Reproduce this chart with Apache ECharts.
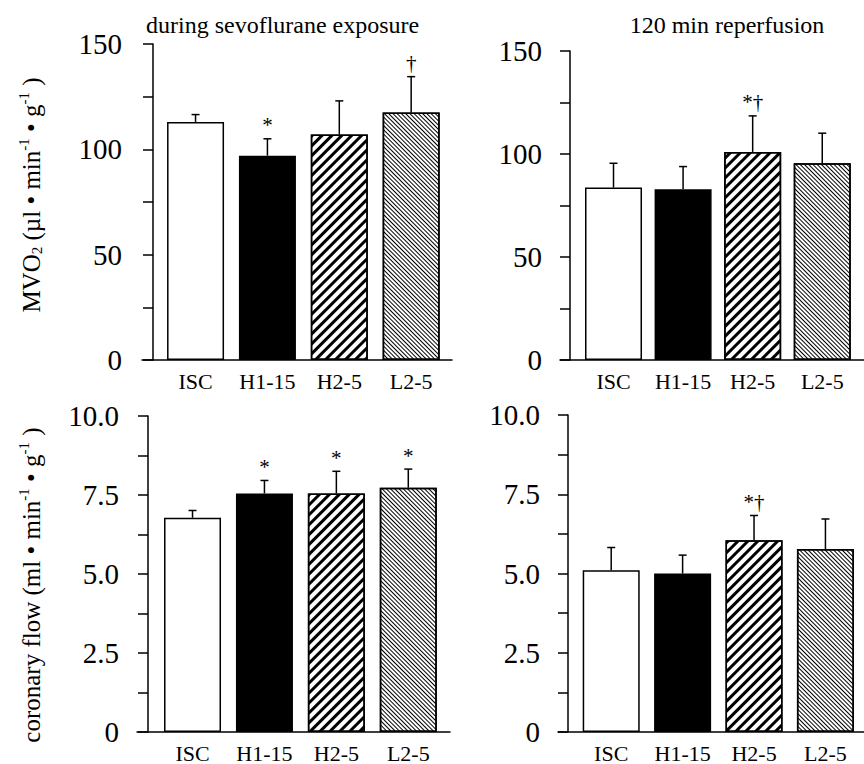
<!DOCTYPE html>
<html>
<head>
<meta charset="utf-8">
<script src="https://cdn.jsdelivr.net/npm/echarts@6/dist/echarts.min.js"></script>
<style>
html,body{margin:0;padding:0;background:#fff}
#chart{width:864px;height:764px}
</style>
</head>
<body>
<div id="chart"></div>
<script>
const categories = ['ISC', 'H1-15', 'H2-5', 'L2-5']

// MVO2, during sevoflurane exposure
const mvoExpMean = [113, 97, 107, 117.5]
const mvoExpErr = [3.5, 8, 16, 17]
const mvoExpMark = ['', '*', '', '†']
// MVO2, 120 min reperfusion
const mvoRepMean = [83.7, 82.9, 101, 95.5]
const mvoRepErr = [11.8, 11, 17.5, 14.6]
const mvoRepMark = ['', '', '*†', '']
// coronary flow, during sevoflurane exposure
const flowExpMean = [6.78, 7.55, 7.55, 7.73]
const flowExpErr = [0.23, 0.41, 0.7, 0.59]
const flowExpMark = ['', '*', '*', '*']
// coronary flow, 120 min reperfusion
const flowRepMean = [5.1, 5.0, 6.05, 5.77]
const flowRepErr = [0.72, 0.58, 0.78, 0.95]
const flowRepMark = ['', '', '*†', '']

const mvoTicks = [0, 50, 100, 150]
const flowTicks = [0, 2.5, 5, 7.5, 10]

const FONT = '"Liberation Serif", "Times New Roman", serif'

// fill of each group: open, solid, wide stripes, fine stripes
const barFills = [
    {color: '#fff'},
    {color: '#000'},
    {color: '#fff', decal: {symbol: 'rect', dashArrayX: [1, 0], dashArrayY: [2.6, 3.8], rotation: -Math.PI / 4, color: '#000'}},
    {color: '#fff', decal: {symbol: 'rect', dashArrayX: [1, 0], dashArrayY: [1, 1.9], rotation: Math.PI / 4, color: '#000'}}
]

const panels = [
    {mean: mvoExpMean, err: mvoExpErr, mark: mvoExpMark, ticks: mvoTicks, max: 150, step: 25,
     left: 142, top: 44, width: 310, height: 316, shift: 11, xMin: -0.745, xMax: 3.568, margin: 31},
    {mean: mvoRepMean, err: mvoRepErr, mark: mvoRepMark, ticks: mvoTicks, max: 150, step: 25,
     left: 560, top: 51, width: 304, height: 309, shift: 10, xMin: -0.769, xMax: 3.6, margin: 28},
    {mean: flowExpMean, err: flowExpErr, mark: flowExpMark, ticks: flowTicks, max: 10, step: 1.25,
     left: 137, top: 416, width: 313, height: 317, shift: 11, xMin: -0.772, xMax: 3.58, margin: 29},
    {mean: flowRepMean, err: flowRepErr, mark: flowRepMark, ticks: flowTicks, max: 10, step: 1.25,
     left: 558, top: 415, width: 306, height: 318, shift: 10, xMin: -0.745, xMax: 3.54, margin: 28}
]

const chart = echarts.init(document.getElementById('chart'), null, {renderer: 'svg'})

const grid = [], xAxis = [], yAxis = [], series = []
panels.forEach((p, k) => {
    grid.push({left: p.left, top: p.top, width: p.width, height: p.height})
    xAxis.push({
        type: 'value', gridIndex: k, min: p.xMin, max: p.xMax,
        axisLine: {onZero: false, lineStyle: {color: '#000', width: 1.5}},
        axisTick: {show: false},
        splitLine: {show: false},
        axisLabel: {
            customValues: [0, 1, 2, 3],
            formatter: v => categories[Math.round(v)],
            color: '#000', fontFamily: FONT, fontSize: 22, margin: 10
        }
    })
    yAxis.push({
        type: 'value', gridIndex: k, min: 0, max: p.max, interval: p.step,
        offset: -p.shift,
        axisLine: {show: true, onZero: false, lineStyle: {color: '#000', width: 1.5}},
        axisTick: {show: true, length: 10, lineStyle: {color: '#000', width: 1.5}},
        splitLine: {show: false},
        axisLabel: {
            formatter: v => {
                if (!p.ticks.some(t => Math.abs(t - v) < 1e-6)) return ''
                if (v === 0) return '0'
                return p.max === 10 ? v.toFixed(1) : String(v)
            },
            color: '#000', fontFamily: FONT, fontSize: 29, margin: p.margin
        }
    })
    series.push({
        type: 'bar', xAxisIndex: k, yAxisIndex: k, barWidth: 57,
        data: p.mean.map((m, i) => ({
            value: [i, m],
            itemStyle: Object.assign({borderColor: '#000', borderWidth: 1.5}, barFills[i])
        }))
    })
    series.push({
        type: 'custom', xAxisIndex: k, yAxisIndex: k, z: 5,
        data: p.mean.map((m, i) => [i, m, p.err[i]]),
        renderItem: (params, api) => {
            const i = api.value(0)
            const base = api.coord([i, api.value(1)])
            const top = api.coord([i, api.value(1) + api.value(2)])
            const ls = {stroke: '#000', lineWidth: 1.5}
            return {
                type: 'group',
                children: [
                    {type: 'line', shape: {x1: base[0], y1: base[1], x2: top[0], y2: top[1]}, style: ls},
                    {type: 'line', shape: {x1: top[0] - 4, y1: top[1], x2: top[0] + 4, y2: top[1]}, style: ls},
                    {type: 'text', x: top[0], y: top[1] - 3,
                     style: {text: p.mark[params.dataIndex], align: 'center', verticalAlign: 'bottom',
                             fontFamily: FONT, fontSize: 21, fill: '#000'}}
                ]
            }
        }
    })
})

const nameRich = {
    n: {fontFamily: FONT, fontSize: 25, color: '#000', lineHeight: 28, verticalAlign: 'bottom'},
    sup: {fontFamily: FONT, fontSize: 15, color: '#000', lineHeight: 22, verticalAlign: 'top'},
    sub: {fontFamily: FONT, fontSize: 15, color: '#000', lineHeight: 20, verticalAlign: 'bottom'}
}

chart.setOption({
    backgroundColor: '#fff',
    animation: false,
    title: [
        {text: 'during sevoflurane exposure', left: 141, top: 8,
         textStyle: {fontFamily: FONT, fontSize: 24, fontWeight: 'normal', color: '#000'}},
        {text: '120 min reperfusion', left: 722, top: 8, textAlign: 'center',
         textStyle: {fontFamily: FONT, fontSize: 24, fontWeight: 'normal', color: '#000'}}
    ],
    graphic: [
        {type: 'text', x: 30, y: 195, rotation: Math.PI / 2,
         style: {text: '{n|MVO}{sub|2}{n| (µl • min}{sup|-1}{n| • g}{sup|-1}{n| )}', rich: nameRich,
                 align: 'center', verticalAlign: 'middle'}},
        {type: 'text', x: 30, y: 585, rotation: Math.PI / 2,
         style: {text: '{n|coronary flow (ml • min}{sup|-1}{n| • g}{sup|-1}{n| )}', rich: nameRich,
                 align: 'center', verticalAlign: 'middle'}}
    ],
    grid: grid,
    xAxis: xAxis,
    yAxis: yAxis,
    series: series
})
</script>
</body>
</html>
